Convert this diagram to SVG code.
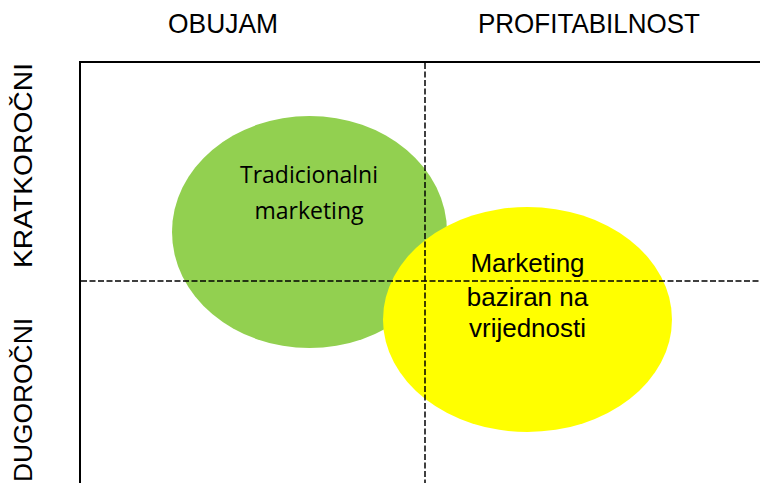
<svg xmlns="http://www.w3.org/2000/svg" width="760" height="483" viewBox="0 0 760 483">
  <style>
    .hdr { font-family: "Liberation Sans", Arial, sans-serif; font-size: 27.5px; fill: #000; }
    .vhdr { font-family: "Liberation Sans", Arial, sans-serif; font-size: 26.5px; fill: #000; }
    .lbl1 { font-family: "Open Sans", "Noto Sans", sans-serif; font-size: 23px; fill: #000; text-anchor: middle; }
    .lbl2 { font-family: "Liberation Sans", Arial, sans-serif; font-size: 26px; fill: #000; text-anchor: middle; }
    .axis { stroke: #000; stroke-width: 2; fill: none; }
    .dash { stroke: #000; stroke-width: 1.5; stroke-dasharray: 6 2.5; fill: none; }
  </style>
  <rect width="760" height="483" fill="#fff"/>
  <g id="headers">
    <text class="hdr" x="168" y="32.5" textLength="110" lengthAdjust="spacingAndGlyphs">OBUJAM</text>
    <text class="hdr" x="478" y="33" textLength="222" lengthAdjust="spacingAndGlyphs">PROFITABILNOST</text>
    <text class="vhdr" transform="translate(32,268) rotate(-90)" x="0" y="0" textLength="205" lengthAdjust="spacingAndGlyphs">KRATKOROČNI</text>
    <text class="vhdr" transform="translate(32,482) rotate(-90)" x="0" y="0" textLength="164" lengthAdjust="spacingAndGlyphs">DUGOROČNI</text>
  </g>
  <g id="node-tradicionalni">
    <ellipse cx="309.5" cy="232" rx="137.5" ry="116" fill="#92D050"/>
    <text class="lbl1" x="309" y="183">Tradicionalni</text>
    <text class="lbl1" x="309" y="219">marketing</text>
  </g>
  <g id="node-vrijednost">
    <ellipse cx="527.5" cy="319.5" rx="144.5" ry="112.5" fill="#FFFF00"/>
    <text class="lbl2" x="527.5" y="272">Marketing</text>
    <text class="lbl2" x="527.5" y="306">baziran na</text>
    <text class="lbl2" x="527.5" y="337">vrijednosti</text>
  </g>
  <g id="connectors">
    <polyline class="axis" points="80,483 80,62 760,62"/>
    <line class="dash" x1="425" y1="63" x2="425" y2="483"/>
    <line class="dash" x1="81" y1="281" x2="760" y2="281"/>
  </g>
</svg>
